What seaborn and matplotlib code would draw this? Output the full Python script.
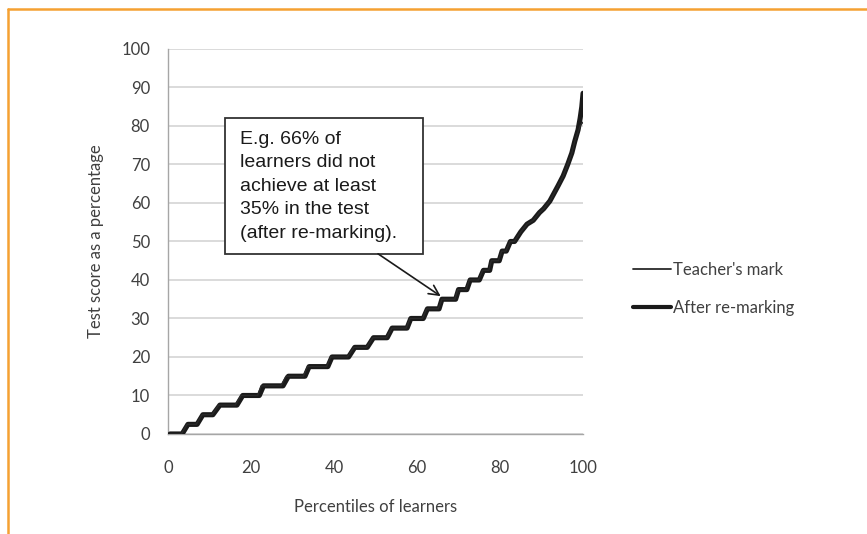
import numpy as np
import pandas as pd
import seaborn as sns
import matplotlib.pyplot as plt
from matplotlib.lines import Line2D
from matplotlib.patches import Rectangle

# score levels (steps of 2.5%) and the percentile range each plateau covers
levels = [0, 2.5, 5, 7.5, 10, 12.5, 15, 17.5, 20, 22.5, 25, 27.5, 30,
          32.5, 35, 37.5, 40, 42.5, 45, 47.5, 50]

remark_start = [0.5, 4.8, 8.4, 12.5, 18, 23, 29, 34, 39.5, 45, 49.5, 54,
                58.5, 62.5, 66, 70, 72.8, 76, 78, 80.5, 82.5]
remark_end = [3.4, 7, 10.8, 16.6, 22, 27.7, 33, 38.5, 43.5, 48, 52.8, 57.6,
              61.5, 65.3, 69.3, 72, 75, 77.5, 79.8, 81.5, 83.5]
remark_tail_pct = [85, 86.5, 88, 89.5, 90.5, 92, 93, 94, 95.2, 96.3, 97.3,
                   98, 98.8, 99.3, 99.7, 100]
remark_tail_score = [52.5, 54.5, 55.5, 57.5, 58.5, 60.5, 62.5, 64.5, 67,
                     70, 73, 76, 79, 82, 85, 88.5]

teacher_start = [0.5, 4.6, 8.2, 12.2, 17.6, 22.4, 28.4, 33.6, 39.2, 44.8,
                 49.4, 54, 58.3, 62.3, 66, 69.8, 72.6, 75.8, 77.9, 80.4, 82.4]
teacher_end = [3.2, 6.8, 10.6, 16.2, 21.6, 27.2, 32.6, 38.2, 43.2, 47.8,
               52.6, 57.4, 61.3, 65.1, 69.1, 71.8, 74.8, 77.3, 79.6, 81.4, 83.4]
teacher_tail_pct = [85, 86.5, 88, 89.5, 90.5, 92, 93, 94, 95.2, 96.3, 97.3,
                    98, 98.8, 99.3, 100]
teacher_tail_score = [52.5, 54.5, 55.5, 57.5, 58.5, 60.5, 62.5, 64.5, 67,
                      70, 73, 76, 78.5, 80, 81]


def build(starts, ends, tail_x, tail_y, name):
    xs, ys = [], []
    for s, e, lv in zip(starts, ends, levels):
        xs += [s, e]
        ys += [lv, lv]
    xs += tail_x
    ys += tail_y
    return pd.DataFrame({"pct": xs, "score": ys, "series": name})


teacher_df = build(teacher_start, teacher_end, teacher_tail_pct,
                   teacher_tail_score, "Teacher's mark")
remark_df = build(remark_start, remark_end, remark_tail_pct,
                  remark_tail_score, "After re-marking")

sns.set_style("white")
plt.rcParams["font.family"] = ["Lato", "DejaVu Sans"]

fig = plt.figure(figsize=(8.67, 5.34), dpi=100)
ax = fig.add_axes([0.1938, 0.1873, 0.4787, 0.7210])

sns.lineplot(data=remark_df, x="pct", y="score", sort=False, color="#1a1a1a",
             linewidth=3.7, ax=ax, label="After re-marking", zorder=3)
sns.lineplot(data=teacher_df, x="pct", y="score", sort=False, color="#2a2a2a",
             linewidth=1.0, ax=ax, label="Teacher's mark", zorder=4)

ax.set_xlim(0, 100)
ax.set_ylim(0, 100)
ax.set_xticks(range(0, 101, 20))
ax.set_yticks(range(0, 101, 10))
ax.yaxis.grid(True, color="#d4d4d4", linewidth=1.2)
ax.set_axisbelow(True)
for side in ["top", "right"]:
    ax.spines[side].set_visible(False)
for side in ["left", "bottom"]:
    ax.spines[side].set_color("#a6a6a6")
    ax.spines[side].set_linewidth(1.0)
ax.tick_params(axis="both", which="major", direction="out", length=5,
               width=1.0, color="#a6a6a6", labelsize=12, labelcolor="#404040")
ax.tick_params(axis="x", pad=14)
ax.tick_params(axis="y", pad=8)

ax.set_xlabel("Percentiles of learners", fontsize=12, color="#404040",
              labelpad=16)
ax.set_ylabel("Test score as a percentage", fontsize=12, color="#404040",
              labelpad=12)

# callout box with arrow
ax.add_patch(Rectangle((13.7, 46.8), 47.7, 35.3, fc="white", ec="#333333",
                       lw=1.3, zorder=6, clip_on=False))
ax.text(17.3, 78.7,
        "E.g. 66% of\nlearners did not\nachieve at least\n35% in the test\n(after re-marking).",
        fontsize=14, family="Liberation Sans", color="#1a1a1a",
        ha="left", va="top", linespacing=1.5, zorder=7)
ax.annotate("", xy=(65.7, 35.8), xytext=(50.6, 46.8),
            arrowprops=dict(arrowstyle="->", color="#1a1a1a", lw=1.2,
                            mutation_scale=18, shrinkA=0, shrinkB=0),
            zorder=6)

handles = [Line2D([], [], color="#2a2a2a", lw=1.3),
           Line2D([], [], color="#1a1a1a", lw=3.0)]
ax.get_legend().remove()
fig.legend(handles, ["Teacher's mark", "After re-marking"],
           loc="center left", bbox_to_anchor=(0.7125, 0.459), frameon=False,
           fontsize=12, handlelength=2.3, handletextpad=0.1,
           labelspacing=1.3, labelcolor="#404040")

# orange frame (top and left edges visible in the source)
fig.add_artist(Line2D([0.0092, 1.0], [0.983, 0.983], color="#f5a132",
                      lw=1.8, transform=fig.transFigure))
fig.add_artist(Line2D([0.0092, 0.0092], [0.0, 0.983], color="#f5a132",
                      lw=1.8, transform=fig.transFigure))

fig.savefig("out.png", dpi=100)
